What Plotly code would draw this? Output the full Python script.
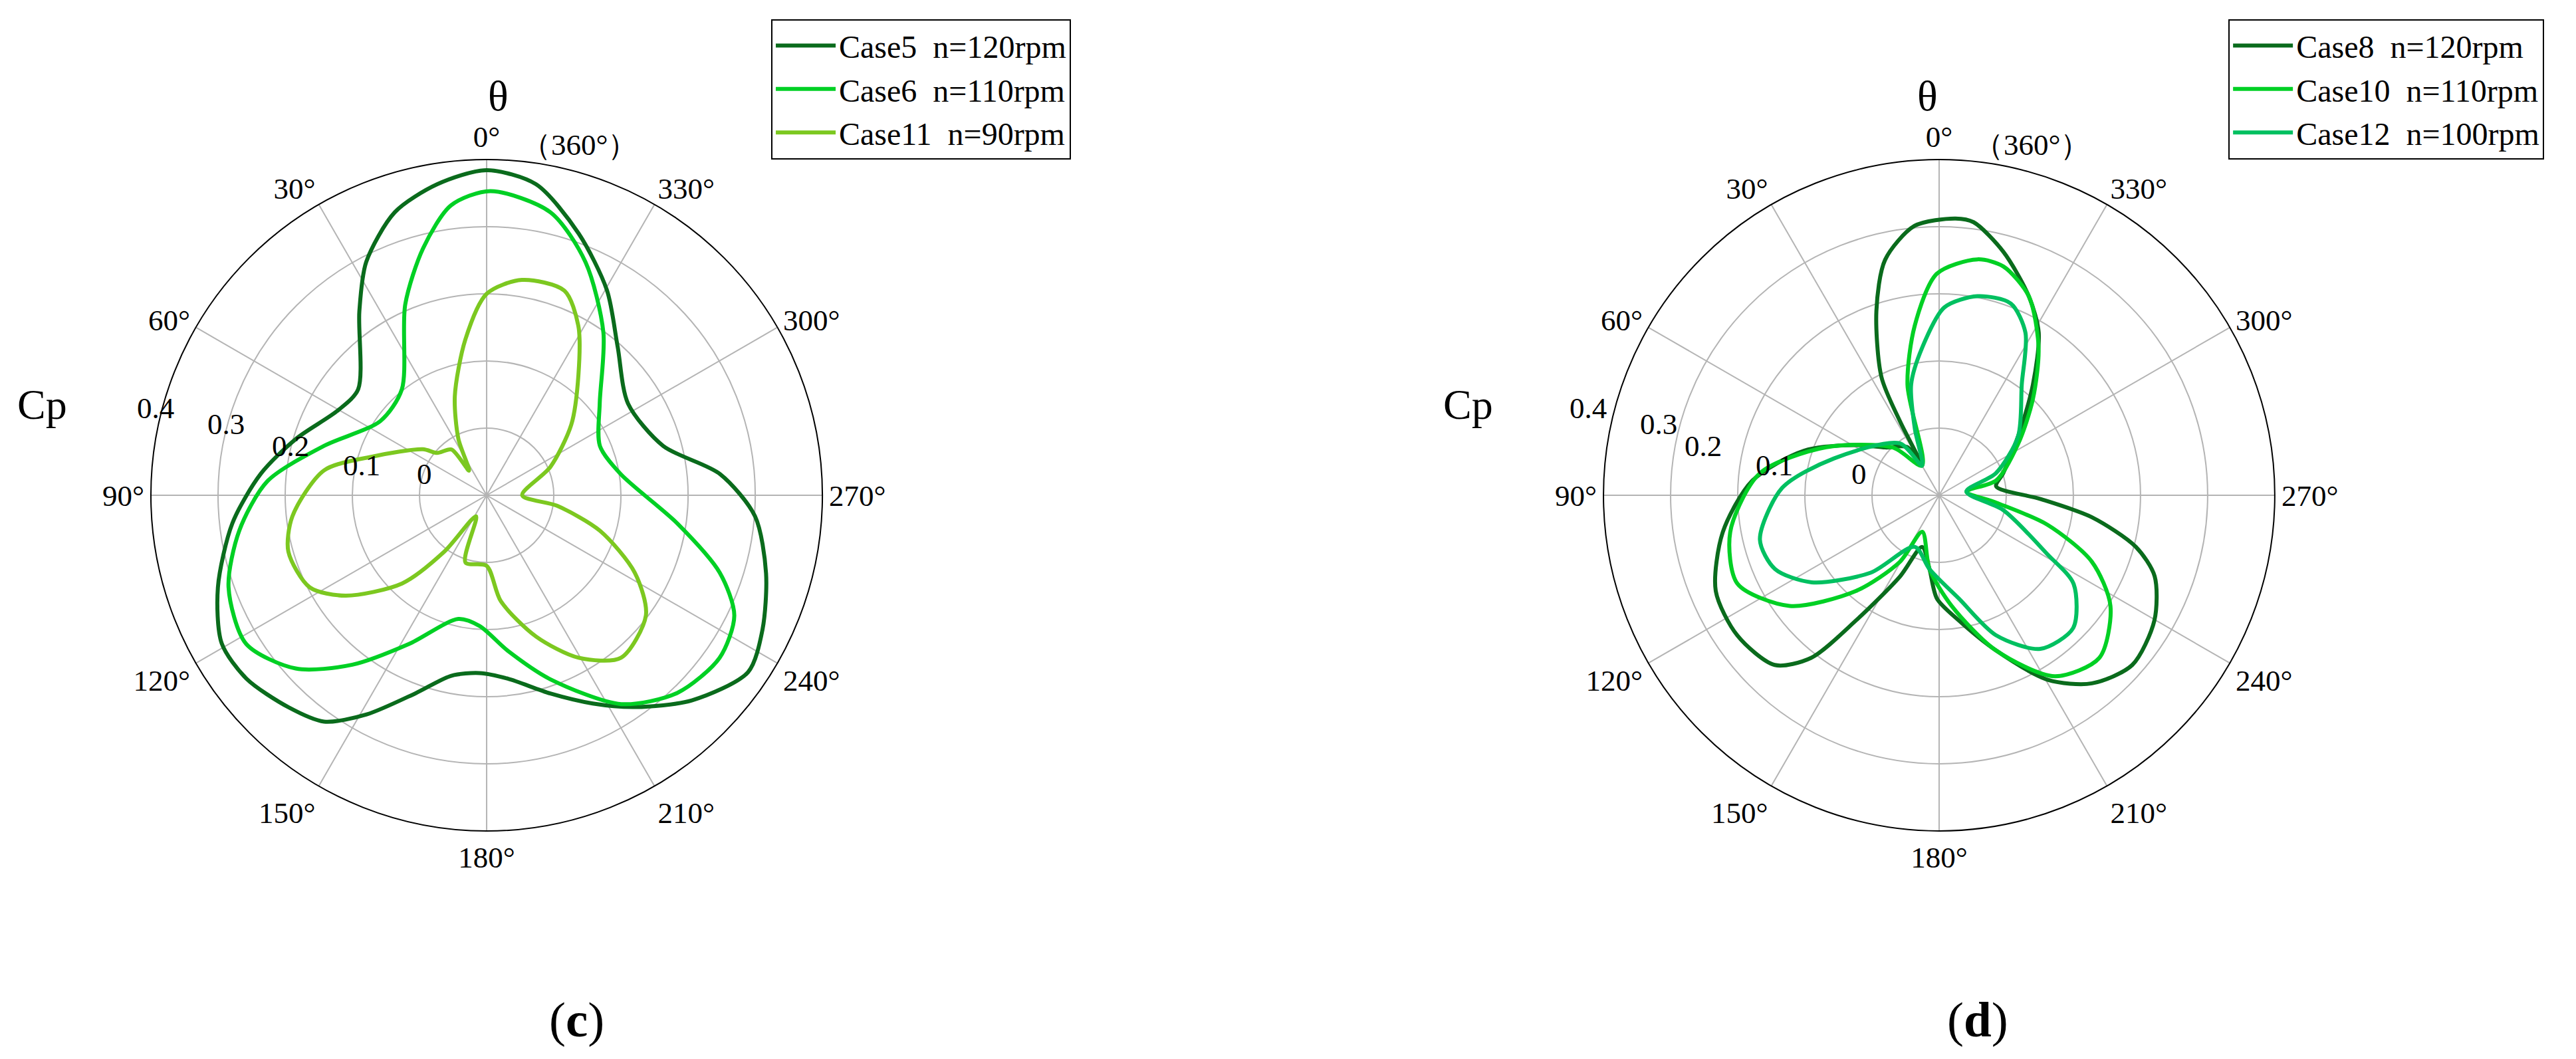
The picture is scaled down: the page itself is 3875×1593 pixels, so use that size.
import plotly.graph_objects as go

# ---- data (theta in degrees, counterclockwise from top; Cp values) ----
c5_theta = [0, 9.0, 18.0, 27.3, 34.7, 50.5, 60.3, 73.5, 84.6, 96.3, 108.9, 119.2, 127.4, 137, 144.3, 151.3, 160.3, 168.9, 177.7, 186.6, 197.8, 207, 215, 225, 235.9, 244, 254.4, 265.5, 275.2, 285.6, 303, 318.6, 329.6, 340.6, 351, 360]
c5_cp = [0.384, 0.369, 0.343, 0.291, 0.233, 0.148, 0.155, 0.196, 0.238, 0.281, 0.323, 0.352, 0.35, 0.332, 0.315, 0.272, 0.213, 0.174, 0.165, 0.175, 0.21, 0.248, 0.285, 0.332, 0.37, 0.357, 0.332, 0.301, 0.249, 0.173, 0.151, 0.195, 0.254, 0.313, 0.369, 0.384]

c6_theta = [359.3, 7.0, 14.4, 23.1, 38.7, 55, 73.1, 86.3, 98.1, 109.6, 121.7, 132.2, 141.6, 152.4, 167.1, 176.9, 187.8, 199.1, 212.8, 224, 235.1, 244.1, 251.6, 261.6, 279, 293.6, 309.1, 324.3, 337, 347.3, 359.3]
c6_cp = [0.353, 0.335, 0.28, 0.209, 0.102, 0.093, 0.153, 0.227, 0.272, 0.308, 0.321, 0.284, 0.222, 0.15, 0.089, 0.095, 0.134, 0.19, 0.27, 0.309, 0.323, 0.31, 0.266, 0.187, 0.102, 0.084, 0.117, 0.198, 0.277, 0.332, 0.353]

c11_theta = [0, 7.8, 17.8, 26.6, 35.5, 37.6, 49.4, 54.2, 71, 81.3, 96.2, 105.9, 117.5, 125.4, 136.2, 143.1, 153.4, 162.5, 180, 187.6, 199.3, 209.5, 219.6, 233, 242.4, 252.6, 261.5, 270, 294, 309.8, 322.6, 331.6, 339.2, 350.7, 360]
c11_cp = [0.2, 0.134, 0.055, -0.006, -0.055, -0.014, -0.003, 0.017, 0.078, 0.145, 0.191, 0.207, 0.197, 0.158, 0.082, 0.005, -0.065, 0.005, 0.005, 0.059, 0.123, 0.178, 0.214, 0.197, 0.149, 0.077, 0.006, -0.047, 0.004, 0.064, 0.125, 0.187, 0.226, 0.225, 0.2]

c8_theta = [356.6, 5.2, 12.9, 18.8, 26, 27.9, 29.9, 33.5, 48.3, 59, 71.8, 85.5, 99.7, 113.2, 124.8, 135.9, 141.8, 146.4, 154.3, 161.8, 172.6, 178.8, 189, 200.1, 210.5, 219.1, 228.7, 239.8, 249.4, 255.3, 261.8, 267.9, 278.9, 289, 306.8, 319.7, 328.5, 335.7, 345.2, 352.8, 356.6]
c8_cp = [0.313, 0.303, 0.26, 0.19, 0.096, 0.024, -0.049, -0.014, 0.007, 0.045, 0.112, 0.179, 0.227, 0.262, 0.266, 0.252, 0.208, 0.124, 0.034, -0.019, 0.011, 0.054, 0.089, 0.146, 0.219, 0.261, 0.283, 0.271, 0.243, 0.203, 0.13, 0.051, -0.014, 0.001, 0.047, 0.116, 0.184, 0.225, 0.275, 0.31, 0.313]

c10_theta = [0.6, 8.2, 16, 29.9, 44.1, 67, 83, 100, 113.7, 126.5, 139, 149.5, 155.3, 172.6, 186.5, 200.1, 212.6, 224.6, 237.1, 246.5, 254.8, 262.6, 277.7, 284.6, 303.2, 315.7, 326, 335.7, 344.3, 350.8, 360.6]
c10_cp = [0.23, 0.155, 0.071, -0.049, -0.001, 0.083, 0.169, 0.216, 0.228, 0.177, 0.089, 0.015, -0.04, 0.011, 0.066, 0.146, 0.22, 0.24, 0.204, 0.148, 0.067, -0.014, -0.059, -0.012, 0.041, 0.1, 0.165, 0.225, 0.254, 0.256, 0.23]

c12_theta = [358.4, 6.6, 14.2, 20.1, 29.9, 37.1, 70.7, 87.3, 103.9, 114.2, 124.3, 138.5, 154.8, 172.6, 190.9, 202.1, 213.4, 225.3, 236.6, 241.4, 257, 277.7, 291.3, 306.8, 323.3, 332, 339.5, 349.1, 358.4]
c12_cp = [0.18, 0.121, 0.07, 0.005, -0.049, -0.003, 0.066, 0.134, 0.175, 0.168, 0.13, 0.054, -0.015, 0.011, 0.057, 0.125, 0.174, 0.181, 0.14, 0.084, -0.002, -0.059, -0.009, 0.047, 0.106, 0.174, 0.205, 0.202, 0.18]

angle_ticks = [0, 30, 60, 90, 120, 150, 180, 210, 240, 270, 300, 330]
angle_labels = ["0°", "30°", "60°", "90°", "120°", "150°", "180°", "210°", "240°", "270°", "300°", "330°"]
r_ticks = [0, 0.1, 0.2, 0.3, 0.4]
r_labels = ["0", "0.1", "0.2", "0.3", "0.4"]

left_names = ["Case5\u00a0\u00a0n=120rpm", "Case6\u00a0\u00a0n=110rpm", "Case11\u00a0\u00a0n=90rpm"]
right_names = ["Case8\u00a0\u00a0n=120rpm", "Case10\u00a0\u00a0n=110rpm", "Case12\u00a0\u00a0n=100rpm"]

DARK, BRIGHT, LIME, TEAL = "#0a6b1c", "#00d024", "#7cc820", "#00c060"
FONT = "Liberation Serif"
W, H = 3875, 1593

fig = go.Figure()
for th, r, name, col in [(c5_theta, c5_cp, left_names[0], DARK), (c6_theta, c6_cp, left_names[1], BRIGHT), (c11_theta, c11_cp, left_names[2], LIME)]:
    fig.add_trace(go.Scatterpolar(theta=th, r=r, mode="lines", name=name, subplot="polar",
                                  line=dict(color=col, width=6, shape="spline", smoothing=0.8), legend="legend"))
for th, r, name, col in [(c8_theta, c8_cp, right_names[0], DARK), (c10_theta, c10_cp, right_names[1], BRIGHT), (c12_theta, c12_cp, right_names[2], TEAL)]:
    fig.add_trace(go.Scatterpolar(theta=th, r=r, mode="lines", name=name, subplot="polar2",
                                  line=dict(color=col, width=6, shape="spline", smoothing=0.8), legend="legend2"))

def polar(dom_x):
    return dict(
        domain=dict(x=dom_x, y=[0.2203, 0.8544]),
        bgcolor="white",
        angularaxis=dict(rotation=90, direction="counterclockwise", tickvals=angle_ticks, ticktext=angle_labels,
                         showline=True, linecolor="black", linewidth=2, gridcolor="#b4b4b4", gridwidth=2,
                         ticks="", tickfont=dict(family=FONT, size=45, color="black")),
        radialaxis=dict(range=[-0.1, 0.4], tickvals=r_ticks, showticklabels=False, angle=165,
                        showline=False, gridcolor="#b4b4b4", gridwidth=2, ticks=""),
    )

legend_style = dict(font=dict(family=FONT, size=48, color="black"), bordercolor="black", borderwidth=2,
                    bgcolor="white", xanchor="left", yanchor="top", tracegroupgap=0, itemwidth=90)

fig.update_layout(
    width=W, height=H, margin=dict(l=0, r=0, t=0, b=0),
    paper_bgcolor="white", plot_bgcolor="white",
    polar=polar([0.0565, 0.3172]), polar2=polar([0.6204, 0.8810]),
    legend=dict(x=0.2973, y=0.987, **legend_style),
    legend2=dict(x=0.8630, y=0.987, **legend_style),
    showlegend=True,
)

centers = [0.1868, 0.7507]
cy = 0.5373
# radial tick label offsets from polar centre (pixels, right/up)
r_label_off = [(-107, 32), (-218, 45), (-325, 74), (-422, 107), (-528, 131)]
for cx in centers:
    for lab, (ox, oy) in zip(r_labels, r_label_off):
        fig.add_annotation(x=cx + ox / W, y=cy + oy / H, xref="paper", yref="paper", text=lab, showarrow=False,
                           font=dict(family=FONT, size=45, color="black"))
    fig.add_annotation(x=cx, y=0.938, xref="paper", yref="paper", text="θ", showarrow=False,
                       font=dict(family=FONT, size=64, color="black"))
    fig.add_annotation(x=cx - 0.1828, y=0.623, xref="paper", yref="paper", text="Cp", showarrow=False,
                       font=dict(family=FONT, size=64, color="black"))
    fig.add_annotation(x=cx + 0.013, y=0.885, xref="paper", yref="paper", text="（360°）", showarrow=False,
                       xanchor="left", font=dict(family=FONT, size=45, color="black"))
for x, t in [(0.2106, "(<b>c</b>)"), (0.7781, "(<b>d</b>)")]:
    fig.add_annotation(x=x, y=0.015, xref="paper", yref="paper", text=t, showarrow=False, yanchor="bottom",
                       font=dict(family=FONT, size=75, color="black"))

fig.write_html("out.html")
